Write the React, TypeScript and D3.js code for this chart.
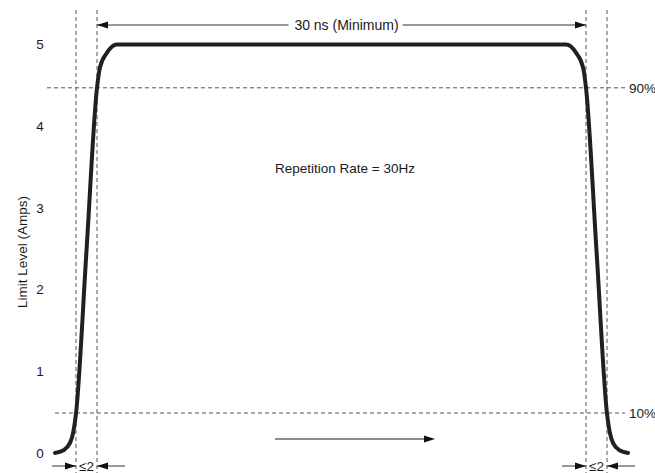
import React from "react";
import * as d3 from "d3";

// Y axis ticks (Amps)
const yTicks = [0, 1, 2, 3, 4, 5];
// Pulse waveform: time (arbitrary units, 0..100) and current (Amps)
const pulseTime = [0, 1.4, 2.6, 3.14, 3.66, 5.5, 7.33, 7.85, 9.08, 10.8, 89.2, 90.92, 92.15, 92.67, 94.5, 96.34, 96.86, 97.4, 98.6, 100];
const pulseAmps = [0, 0.03, 0.12, 0.24, 0.48, 2.48, 4.47, 4.72, 4.9, 5.0, 5.0, 4.9, 4.72, 4.47, 2.48, 0.48, 0.24, 0.12, 0.03, 0];
// Marker (dashed vertical) times
const markerTimes = [3.66, 7.33, 92.67, 96.34];
// Threshold levels
const levelAmps = [4.47, 0.49];
const levelLabels = ["90%", "10%"];
const widthLabel = "30 ns (Minimum)";
const riseLabel = "≤2";
const annotation = "Repetition Rate = 30Hz";
const yLabel = "Limit Level (Amps)";

const W = 655;
const H = 473;
const FONT = "'Liberation Sans', Arial, sans-serif";

export default function App() {
  const x = d3.scaleLinear().domain([0, 100]).range([55, 628]);
  const y = d3.scaleLinear().domain([0, 5]).range([453, 44.5]);

  const line = d3
    .line<number>()
    .x((_, i) => x(pulseTime[i]))
    .y((d) => y(d))
    .curve(d3.curveMonotoneX);
  const pathD = line(pulseAmps) || "";

  const dash = "4,3";
  const dashColor = "#555";
  const arrowY = 25;
  const botY = 466;
  const txt = "#1a1a1a";

  const m = markerTimes.map((t) => x(t));

  const arrowHead = (tipX: number, tipY: number, dir: number, len = 11, hw = 3.5) =>
    `M${tipX},${tipY}L${tipX - dir * len},${tipY - hw}L${tipX - dir * len},${tipY + hw}Z`;

  const labelCx = (m[1] + m[2]) / 2;
  const gapHalf = 57;

  return (
    <svg width={W} height={H} style={{ position: "absolute", left: 0, top: 0, background: "#fff" }} fontFamily={FONT}>
      {/* y tick labels */}
      {yTicks.map((t) => (
        <text key={t} x={40} y={y(t)} dy="0.35em" textAnchor="middle" fontSize={13.5} fill={txt}>
          {t}
        </text>
      ))}
      <text
        transform={`translate(22,252) rotate(-90)`}
        textAnchor="middle"
        dy="0.35em"
        fontSize={13.5}
        fill={txt}
      >
        {yLabel}
      </text>

      {/* vertical dashed markers */}
      {m.map((mx, i) => (
        <line key={i} x1={mx} x2={mx} y1={10} y2={473} stroke={dashColor} strokeWidth={1} strokeDasharray={dash} />
      ))}

      {/* horizontal dashed levels */}
      {levelAmps.map((a, i) => (
        <g key={i}>
          <line
            x1={i === 0 ? 47 : 55}
            x2={625}
            y1={y(a)}
            y2={y(a)}
            stroke={dashColor}
            strokeWidth={1}
            strokeDasharray={dash}
          />
          <text x={629} y={y(a)} dy="0.35em" fontSize={13.5} fill={txt}>
            {levelLabels[i]}
          </text>
        </g>
      ))}

      {/* top width arrow */}
      <line x1={m[1]} x2={labelCx - gapHalf + 4} y1={arrowY} y2={arrowY} stroke="#333" strokeWidth={1} />
      <line x1={labelCx + gapHalf + 4} x2={m[2]} y1={arrowY} y2={arrowY} stroke="#333" strokeWidth={1} />
      <path d={arrowHead(m[1], arrowY, -1)} fill="#111" />
      <path d={arrowHead(m[2], arrowY, 1)} fill="#111" />
      <text x={labelCx + 5} y={arrowY} dy="0.35em" textAnchor="middle" fontSize={14} fill={txt}>
        {widthLabel}
      </text>

      {/* bottom rise/fall arrows */}
      {[0, 2].map((k) => {
        const a = m[k];
        const b = m[k + 1];
        return (
          <g key={k}>
            <line x1={a - 24} x2={a} y1={botY} y2={botY} stroke="#333" strokeWidth={1} />
            <path d={arrowHead(a, botY, 1)} fill="#111" />
            <line x1={b} x2={b + 28} y1={botY} y2={botY} stroke="#333" strokeWidth={1} />
            <path d={arrowHead(b, botY, -1)} fill="#111" />
            <text x={(a + b) / 2} y={botY} dy="0.35em" textAnchor="middle" fontSize={13.5} fill={txt}>
              {riseLabel}
            </text>
          </g>
        );
      })}

      {/* annotation */}
      <text x={345} y={168} dy="0.35em" textAnchor="middle" fontSize={13.5} fill={txt}>
        {annotation}
      </text>

      {/* time direction arrow */}
      <line x1={275} x2={425} y1={439} y2={439} stroke="#666" strokeWidth={1.5} />
      <path d={arrowHead(435, 439, 1)} fill="#111" />

      {/* pulse */}
      <path d={pathD} fill="none" stroke="#231f20" strokeWidth={4} strokeLinecap="round" strokeLinejoin="round" />
    </svg>
  );
}
